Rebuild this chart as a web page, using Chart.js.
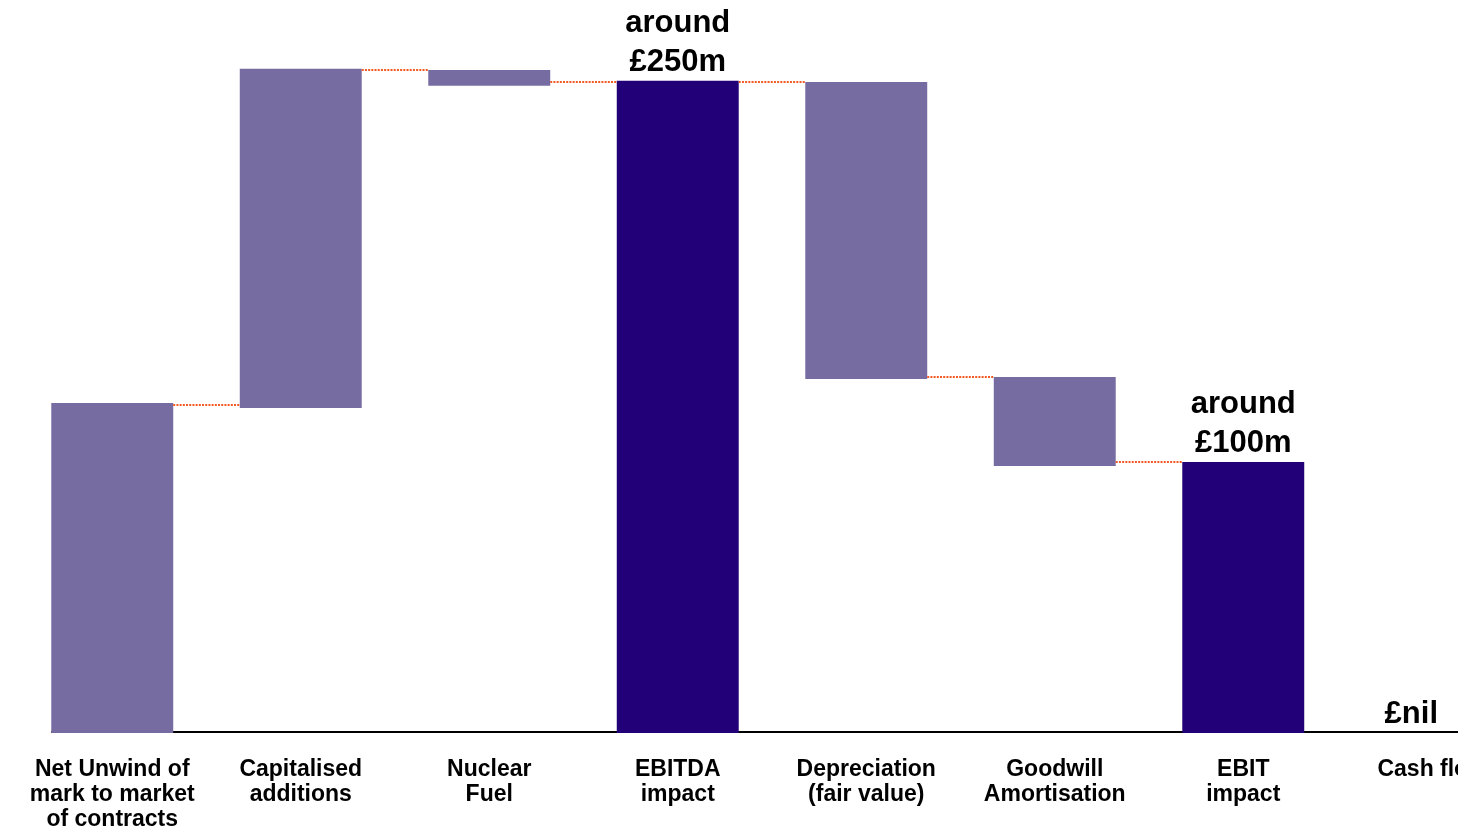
<!DOCTYPE html>
<html><head><meta charset="utf-8">
<script src="https://cdn.jsdelivr.net/npm/chart.js@4/dist/chart.umd.min.js"></script>
<style>
html,body{margin:0;padding:0;background:#fff;overflow:hidden;}
#wrap{position:relative;width:1526px;height:830px;}
canvas{display:block;}
</style></head><body>
<div id="wrap"><canvas id="c" width="1526" height="830"></canvas></div>
<script>
// Categories (x-axis labels)
const categories = [
  ["Net Unwind of", "mark to market", "of contracts"],
  ["Capitalised", "additions"],
  ["Nuclear", "Fuel"],
  ["EBITDA", "impact"],
  ["Depreciation", "(fair value)"],
  ["Goodwill", "Amortisation"],
  ["EBIT", "impact"],
  ["Cash flow"]
];
// Floating bar bounds (£m)
const barLow  = [0, 124.6, 248.1, 0, 135.7, 102.4, 0, 0];
const barHigh = [126.5, 254.6, 254.2, 250, 249.6, 136.5, 103.9, 0];
// Totals drawn in dark colour
const isTotal = [false, false, false, true, false, false, true, true];
// Dotted connector levels between consecutive bars (£m)
const connectorLevels = [125.7, 254.2, 249.6, 249.6, 136.5, 103.7];
// Value labels above bars
const valueLabels = [null, null, null, ["around", "£250m"], null, null, ["around", "£100m"], ["£nil"]];

const LIGHT = '#776ca2';
const DARK = '#220077';
const FONT = '"Liberation Sans", Arial, Helvetica, sans-serif';

const waterfallDecor = {
  id: 'waterfallDecor',
  beforeDatasetsDraw(chart) {
    const meta = chart.getDatasetMeta(0);
    const ys = chart.scales.y;
    const ctx = chart.ctx;
    const first = meta.data[0];
    const y0 = ys.getPixelForValue(0);
    ctx.save();
    ctx.strokeStyle = '#000';
    ctx.lineWidth = 2;
    ctx.beginPath();
    ctx.moveTo(first.x - first.width / 2, y0 - 1);
    ctx.lineTo(chart.chartArea.right, y0 - 1);
    ctx.stroke();
    ctx.restore();
  },
  afterDatasetsDraw(chart) {
    const meta = chart.getDatasetMeta(0);
    const ys = chart.scales.y;
    const ctx = chart.ctx;
    ctx.save();
    ctx.strokeStyle = '#f15a24';
    ctx.lineWidth = 2;
    ctx.setLineDash([2, 1.2]);
    connectorLevels.forEach((lv, i) => {
      const a = meta.data[i], b = meta.data[i + 1];
      const py = Math.round(ys.getPixelForValue(lv));
      ctx.beginPath();
      ctx.moveTo(a.x + a.width / 2, py);
      ctx.lineTo(b.x - b.width / 2, py);
      ctx.stroke();
    });
    ctx.restore();

    ctx.save();
    ctx.fillStyle = '#000';
    ctx.font = 'bold 31px ' + FONT;
    ctx.textAlign = 'center';
    ctx.textBaseline = 'alphabetic';
    const visibleRight = Math.min(chart.width, window.innerWidth || chart.width) - 20;
    valueLabels.forEach((lines, i) => {
      if (!lines) return;
      const el = meta.data[i];
      const top = ys.getPixelForValue(barHigh[i]);
      const w = Math.max(...lines.map(t => ctx.measureText(t).width));
      const x = Math.min(el.x, visibleRight - w / 2);
      lines.forEach((t, k) => {
        ctx.fillText(t, x, top - 10 - (lines.length - 1 - k) * 39);
      });
    });
    ctx.restore();
  }
};

new Chart(document.getElementById('c'), {
  type: 'bar',
  data: {
    labels: categories,
    datasets: [{
      data: barLow.map((lo, i) => [lo, barHigh[i]]),
      backgroundColor: isTotal.map(t => t ? DARK : LIGHT),
      borderWidth: 0,
      categoryPercentage: 1,
      barPercentage: 0.647
    }]
  },
  options: {
    responsive: false,
    animation: false,
    devicePixelRatio: 1,
    layout: { padding: { left: 18, right: 0, top: 0, bottom: 0 } },
    plugins: { legend: { display: false }, tooltip: { enabled: false } },
    scales: {
      x: {
        grid: { display: false, drawTicks: false },
        border: { display: false },
        ticks: {
          color: '#000',
          font: { family: FONT, size: 23, weight: 'bold', lineHeight: 1.087 },
          padding: 24,
          maxRotation: 0,
          autoSkip: false
        },
        afterFit(scale) { scale.height = 97; }
      },
      y: {
        display: false,
        min: 0,
        max: 281
      }
    }
  },
  plugins: [waterfallDecor]
});
</script>
</body></html>
